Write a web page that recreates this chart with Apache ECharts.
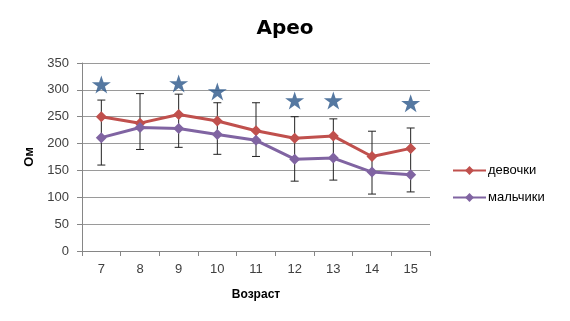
<!DOCTYPE html>
<html>
<head>
<meta charset="utf-8">
<script src="https://cdn.jsdelivr.net/npm/echarts@6/dist/echarts.min.js"></script>
<style>
  html, body { margin: 0; padding: 0; background: #fff; }
  #chart { width: 570px; height: 321px; }
</style>
</head>
<body>
<div id="chart"></div>
<script>
// data
var ages = ['7', '8', '9', '10', '11', '12', '13', '14', '15'];
var girls = [250, 238, 254, 242, 224, 210, 214, 176, 191];
var boys = [211, 230, 228, 217, 206, 171, 173, 147, 142];
var errTop = [281, 293, 292, 276, 276, 250, 246, 223, 229];
var errBottom = [160, 189, 193, 180, 176, 130, 132, 106, 110];
var stars = [310, null, 312, 297, null, 280, 280, null, 275];

var starPath = 'path://M50,0 L61.8,35.5 L100,35.5 L69.1,57.5 L80.9,95 L50,72 L19.1,95 L30.9,57.5 L0,35.5 L38.2,35.5 Z';
var font = '"Liberation Sans", "DejaVu Sans", sans-serif';

var errData = ages.map(function (a, i) {
  return [i, errBottom[i], errTop[i]];
});

var chart = echarts.init(document.getElementById('chart'));
chart.setOption({
  animation: false,
  title: {
    text: 'Арео',
    left: 'center',
    top: 14,
    textStyle: { fontFamily: '"DejaVu Sans", sans-serif', fontWeight: 'bold', fontSize: 20, color: '#000' }
  },
  legend: {
    orient: 'vertical',
    left: 452,
    top: 164,
    padding: 0,
    itemWidth: 33,
    itemHeight: 11,
    itemGap: 14,
    textStyle: { fontFamily: font, fontSize: 13, color: '#000', padding: [0, 0, 0, -3] },
    data: ['девочки', 'мальчики']
  },
  grid: { left: 82, right: 140, top: 63, bottom: 70 },
  xAxis: {
    type: 'category',
    data: ages,
    name: 'Возраст',
    nameLocation: 'middle',
    nameGap: 38,
    nameTextStyle: { fontFamily: font, fontWeight: 'bold', fontSize: 12, color: '#000' },
    axisLine: { lineStyle: { color: '#868686' } },
    axisTick: { show: true, length: 5, lineStyle: { color: '#868686' } },
    axisLabel: { fontFamily: font, fontSize: 13, color: '#404040', margin: 12 }
  },
  yAxis: {
    type: 'value',
    min: 0,
    max: 350,
    interval: 50,
    name: 'Ом',
    nameLocation: 'middle',
    nameGap: 39,
    nameTextStyle: { fontFamily: font, fontWeight: 'bold', fontSize: 13, color: '#000' },
    axisLine: { show: true, lineStyle: { color: '#868686' } },
    axisTick: { show: true, length: 5, lineStyle: { color: '#868686' } },
    axisLabel: { fontFamily: font, fontSize: 13, color: '#404040', margin: 13 },
    splitLine: { lineStyle: { color: '#9a9a9a' } }
  },
  series: [
    {
      type: 'custom',
      name: 'err',
      z: 1,
      data: errData,
      encode: { x: 0, y: [1, 2] },
      renderItem: function (params, api) {
        var lo = api.coord([api.value(0), api.value(1)]);
        var hi = api.coord([api.value(0), api.value(2)]);
        var c = 4;
        var style = { stroke: '#222', lineWidth: 1 };
        return {
          type: 'group',
          children: [
            { type: 'line', shape: { x1: lo[0], y1: lo[1], x2: hi[0], y2: hi[1] }, style: style },
            { type: 'line', shape: { x1: lo[0] - c, y1: lo[1], x2: lo[0] + c, y2: lo[1] }, style: style },
            { type: 'line', shape: { x1: hi[0] - c, y1: hi[1], x2: hi[0] + c, y2: hi[1] }, style: style }
          ]
        };
      }
    },
    {
      type: 'line',
      name: 'девочки',
      z: 3,
      data: girls,
      symbol: 'diamond',
      symbolSize: 11,
      lineStyle: { color: '#C0504D', width: 3 },
      itemStyle: { color: '#C0504D' }
    },
    {
      type: 'line',
      name: 'мальчики',
      z: 3,
      data: boys,
      symbol: 'diamond',
      symbolSize: 11,
      lineStyle: { color: '#8064A2', width: 3 },
      itemStyle: { color: '#8064A2' }
    },
    {
      type: 'scatter',
      name: 'stars',
      z: 4,
      data: stars,
      symbol: starPath,
      symbolSize: [19, 18],
      itemStyle: { color: '#2B568A' }
    }
  ]
});
</script>
</body>
</html>
